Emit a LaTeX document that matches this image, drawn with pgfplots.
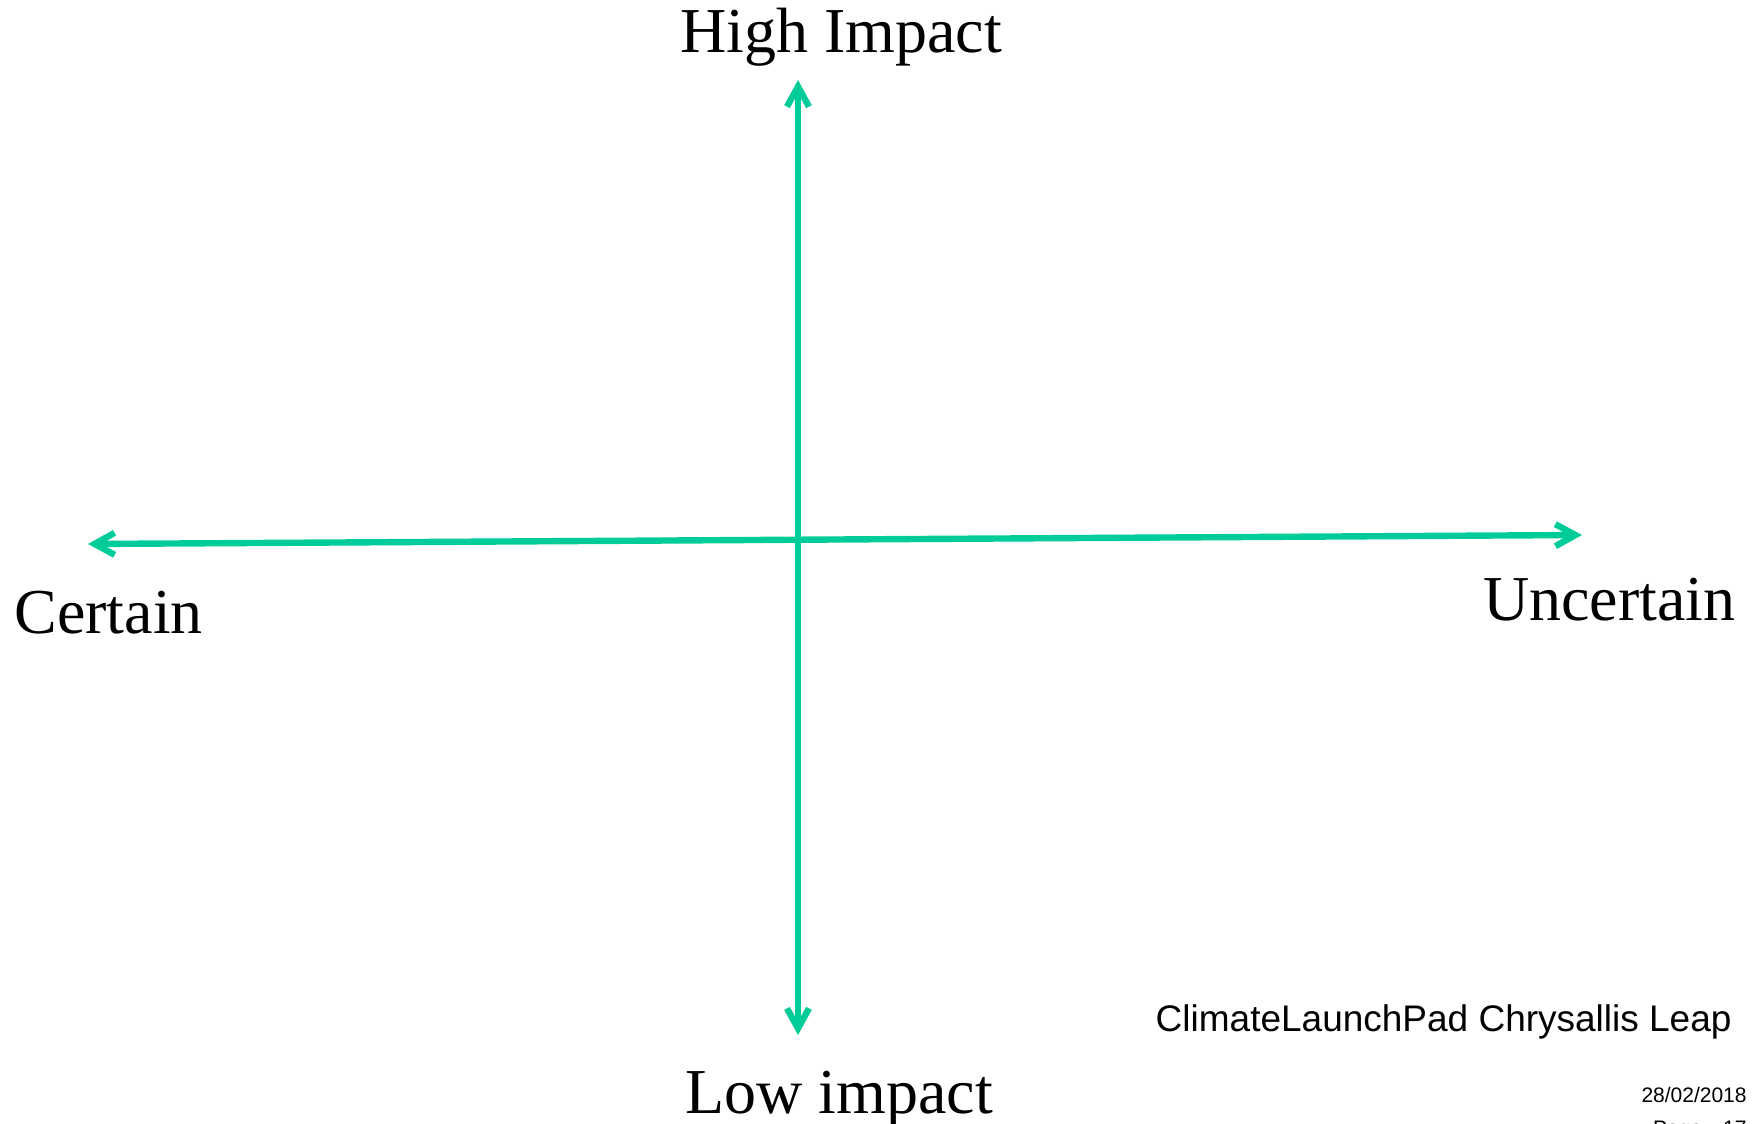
\documentclass[border=0pt]{standalone}
\usepackage{pgfplots}
\pgfplotsset{compat=1.18}
\usepackage{fontspec}
\setmainfont{Liberation Serif}
\newfontfamily\sansf{Liberation Sans}
\usetikzlibrary{arrows.meta}
\definecolor{arrowgreen}{RGB}{0,204,153}
\begin{document}
\begin{tikzpicture}
\useasboundingbox (0,0) rectangle (879pt,562pt);
\begin{axis}[at={(0,0)},anchor=south west,scale only axis,
  width=879pt,height=562pt,
  xmin=0,xmax=1758,ymin=0,ymax=1124,y dir=reverse,
  hide axis,clip=false]
% vertical axis arrow (High / Low impact)
\addplot[arrowgreen,line width=3.2pt,no markers,
  arrows={Straight Barb[length=10pt,width=11pt]-Straight Barb[length=10pt,width=11pt]}]
  coordinates {(798,1035) (798,80)};
% horizontal axis arrow (Certain / Uncertain)
\addplot[arrowgreen,line width=3.2pt,no markers,
  arrows={Straight Barb[length=10pt,width=11pt]-Straight Barb[length=10pt,width=11pt]}]
  coordinates {(88,544) (1582,535)};
\node[anchor=base,inner sep=0pt,font=\fontsize{32}{38}\selectfont] at (axis cs:841,53) {High Impact};
\node[anchor=base west,inner sep=0pt,font=\fontsize{32}{38}\selectfont] at (axis cs:14,633) {Certain};
\node[anchor=base east,inner sep=0pt,font=\fontsize{32}{38}\selectfont] at (axis cs:1736,620) {Uncertain};
\node[anchor=base west,inner sep=0pt,font=\fontsize{32}{38}\selectfont] at (axis cs:685,1113) {Low impact};
\node[anchor=base east,inner sep=0pt,font=\sansf\fontsize{18.5}{22}\selectfont] at (axis cs:1732,1031) {ClimateLaunchPad Chrysallis Leap};
\node[anchor=base east,inner sep=0pt,font=\sansf\fontsize{10.5}{12}\selectfont] at (axis cs:1747,1102) {28/02/2018};
\node[anchor=base east,inner sep=0pt,font=\sansf\fontsize{10.5}{12}\selectfont] at (axis cs:1747,1135) {Page\quad 17};
\end{axis}
\end{tikzpicture}
\end{document}
